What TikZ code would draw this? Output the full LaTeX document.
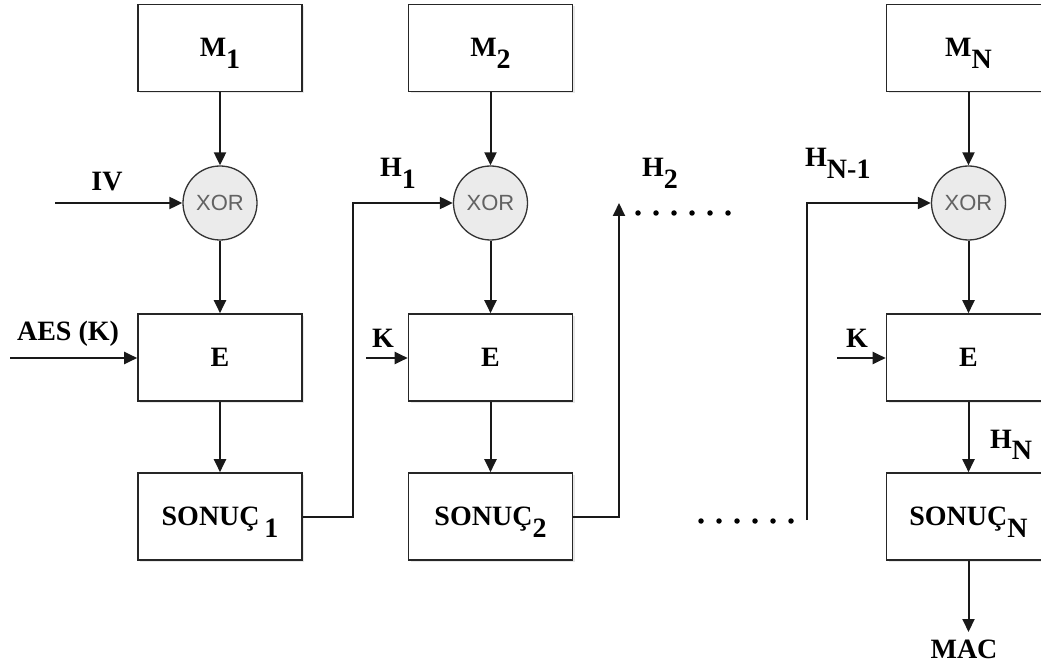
\documentclass[tikz,border=0pt]{standalone}
\usepackage{fontspec}
\setmainfont{Liberation Serif}
\newfontfamily\xorfont{Liberation Sans}
\usetikzlibrary{arrows.meta,shadows}
\newcommand\lsub[1]{\raisebox{-0.42em}{#1}}
\definecolor{xorfill}{HTML}{EBEBEB}
\definecolor{xortext}{HTML}{626262}
\tikzset{
  blk/.style={draw=black!85,line width=1.6pt,fill=white,minimum width=164pt,minimum height=87pt,
    inner sep=0pt,text height=19pt,text depth=1pt,font=\fontsize{28}{30}\selectfont\bfseries,
    drop shadow={shadow xshift=2pt,shadow yshift=-2pt,opacity=0.18}},
  xorc/.style={circle,draw=black!80,line width=1.3pt,fill=xorfill,minimum size=74pt,inner sep=0pt,
    font=\fontsize{22}{24}\selectfont\xorfont,text=xortext},
  lbl/.style={inner sep=0pt,font=\fontsize{28}{30}\selectfont\bfseries},
  conn/.style={draw=black!90,line width=2pt,-{Triangle[length=13pt,width=12pt]}},
  dotc/.style={fill=black,circle,inner sep=0pt,minimum size=5.5pt}
}
\begin{document}
\begin{tikzpicture}[x=1pt,y=-1pt]
\useasboundingbox (0,0) rectangle (1041,668);
% column 1
\node[blk] (m1) at (220,48) {M\lsub{1}};
\node[xorc] (x1) at (220,203) {XOR};
\node[blk] (e1) at (220,357.5) {E};
\node[blk] (s1) at (220,516.5) {SONUÇ\,\lsub{1}};
% column 2
\node[blk] (m2) at (490.5,48) {M\lsub{2}};
\node[xorc] (x2) at (490.5,203) {XOR};
\node[blk] (e2) at (490.5,357.5) {E};
\node[blk] (s2) at (490.5,516.5) {SONUÇ\lsub{2}};
% column N
\node[blk] (mn) at (968.5,48) {M\lsub{N}};
\node[xorc] (xn) at (968.5,203) {XOR};
\node[blk] (en) at (968.5,357.5) {E};
\node[blk] (sn) at (968.5,516.5) {SONUÇ\lsub{N}};
% labels
\node[lbl] (iv) at (107,182) {IV};
\node[lbl] (aes) at (68,334) {AES (K)};
\node[lbl] (k2) at (383,338) {K};
\node[lbl] (kn) at (857,338) {K};
\node[lbl,anchor=base west] (h1) at (380,177) {H\lsub{1}};
\node[lbl,anchor=base west] (h2) at (642,177) {H\lsub{2}};
\node[lbl,anchor=base west] (hn1) at (805,167) {H\lsub{N-1}};
\node[lbl,anchor=base west] (hn) at (990,448) {H\lsub{N}};
\node[lbl] (mac) at (964,649) {MAC};
% coordinates
\coordinate (ivs) at (55,203);
\coordinate (aess) at (10,358);
\coordinate (k2s) at (366,358);
\coordinate (kns) at (837,358);
\coordinate (c1) at (353,516.5);
\coordinate (c1t) at (353,203);
\coordinate (c2) at (619,516.5);
\coordinate (c2t) at (619,203);
\coordinate (cn) at (807,520);
\coordinate (cnt) at (807,203);
\coordinate (macend) at (968.5,632);
% vertical flow
\foreach \m/\x/\e/\s in {m1/x1/e1/s1,m2/x2/e2/s2,mn/xn/en/sn}{
  \draw[conn] (\m.south) -- (\x.north);
  \draw[conn] (\x.south) -- (\e.north);
  \draw[conn] (\e.south) -- (\s.north);
}
\draw[conn] (sn.south) -- (macend);
% side inputs
\draw[conn] (ivs) -- (x1.west);
\draw[conn] (aess) -- (e1.west |- aess);
\draw[conn] (k2s) -- (e2.west |- k2s);
\draw[conn] (kns) -- (en.west |- kns);
% chaining
\draw[conn] (s1.east) -- (c1) -- (c1t) -- (x2.west);
\draw[conn] (s2.east) -- (c2) -- (c2t);
\draw[conn] (cn) -- (cnt) -- (xn.west);
% dots
\foreach \i in {0,...,5}{
  \node[dotc] (td\i) at (638+18*\i,213) {};
  \node[dotc] (bd\i) at (701+18*\i,521) {};
}
\end{tikzpicture}
\end{document}
